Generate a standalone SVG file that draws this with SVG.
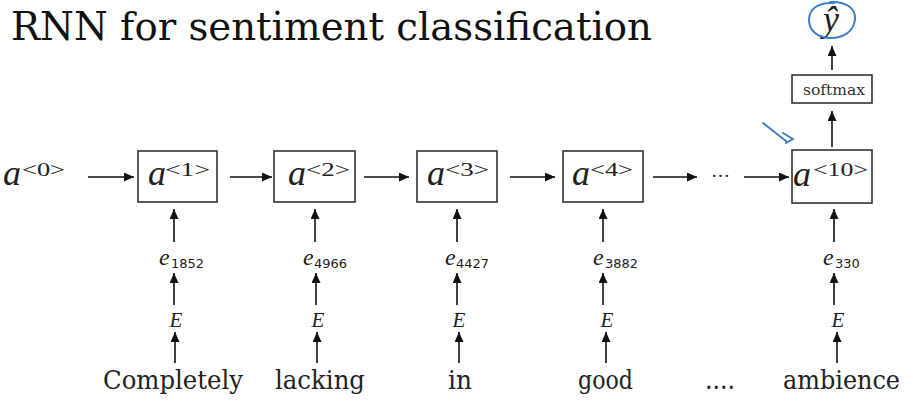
<svg xmlns="http://www.w3.org/2000/svg" width="913" height="404" viewBox="0 0 913 404">
<style>
.box{fill:#fff;stroke:#333;stroke-width:1.6}
.serif{font-family:'Liberation Serif','Times New Roman',serif}
.dserif{font-family:'DejaVu Serif',serif}
.a{font-style:italic;font-size:36px;fill:#222}
.sup{font-size:19px;fill:#222}
.e{font-style:italic;font-size:24px;fill:#222}
.sub{font-family:'DejaVu Sans',sans-serif;font-size:13px;fill:#222}
.E{font-style:italic;font-size:21px;fill:#222}
.word{font-size:26px;fill:#222}
.title{font-size:40px;fill:#111}
.sm{font-size:14px;fill:#333}
.arr{stroke:#111;stroke-width:1.6;fill:none;marker-end:url(#ah)}
.blue{stroke:#3d7fc6;stroke-width:2;fill:none;stroke-linecap:round;stroke-linejoin:round}
</style>
<defs>
<marker id="ah" markerUnits="userSpaceOnUse" markerWidth="10" markerHeight="9" refX="10" refY="4.5" orient="auto">
<path d="M0,0 L10,4.5 L0,9 z" fill="#111"/>
</marker>
</defs>
<rect width="913" height="404" fill="#fff"/>
<text class="dserif title" x="11" y="40" textLength="641" lengthAdjust="spacingAndGlyphs">RNN for sentiment classification</text>

<g id="a0" class="serif"><text class="a" x="3" y="185">a</text><text class="sup" x="22" y="176" textLength="43" lengthAdjust="spacingAndGlyphs">&lt;0&gt;</text></g>

<g id="rnn1" class="serif"><rect class="box" x="138" y="151" width="79" height="51"/><text class="a" x="148" y="185">a</text><text class="sup" x="165" y="176" textLength="45" lengthAdjust="spacingAndGlyphs">&lt;1&gt;</text></g>
<g id="rnn2" class="serif"><rect class="box" x="274" y="151" width="81" height="51"/><text class="a" x="288" y="185">a</text><text class="sup" x="306" y="176" textLength="44" lengthAdjust="spacingAndGlyphs">&lt;2&gt;</text></g>
<g id="rnn3" class="serif"><rect class="box" x="417" y="151" width="80" height="51"/><text class="a" x="427" y="185">a</text><text class="sup" x="445" y="176" textLength="44" lengthAdjust="spacingAndGlyphs">&lt;3&gt;</text></g>
<g id="rnn4" class="serif"><rect class="box" x="563" y="151" width="80" height="51"/><text class="a" x="572" y="185">a</text><text class="sup" x="590" y="176" textLength="43" lengthAdjust="spacingAndGlyphs">&lt;4&gt;</text></g>
<g id="dots" class="serif"><text class="sup" x="711" y="182" font-size="22">···</text></g>
<g id="rnn10" class="serif"><rect class="box" x="792" y="150" width="80" height="53"/><text class="a" x="793" y="186">a</text><text class="sup" x="813" y="176" textLength="55" lengthAdjust="spacingAndGlyphs">&lt;10&gt;</text></g>

<g id="softmax" class="dserif"><rect class="box" x="792" y="75" width="80" height="28"/><text class="sm" x="803" y="95" textLength="62" lengthAdjust="spacingAndGlyphs">softmax</text></g>
<g id="yhat" class="serif"><text class="a" x="831" y="31" text-anchor="middle" font-size="26">ŷ</text>
<path class="blue" d="M830,2 C845,1 856,8 855,19 C854,31 844,38 831,38 C817,38 809,30 809,20 C809,9 818,2 834,3"/></g>
<g id="annotation"><path class="blue" d="M763,123 L786,141 M783,133 L793,139 L786,143"/></g>

<g id="e1" class="serif"><text class="e" x="159" y="265">e</text><text class="sub" x="171" y="268">1852</text></g>
<g id="e2" class="serif"><text class="e" x="303" y="265">e</text><text class="sub" x="314" y="268">4966</text></g>
<g id="e3" class="serif"><text class="e" x="445" y="265">e</text><text class="sub" x="456" y="268">4427</text></g>
<g id="e4" class="serif"><text class="e" x="593" y="265">e</text><text class="sub" x="605" y="268">3882</text></g>
<g id="e10" class="serif"><text class="e" x="823" y="265">e</text><text class="sub" x="835" y="268">330</text></g>

<g id="E1" class="serif"><text class="E" x="176" y="327" text-anchor="middle">E</text></g>
<g id="E2" class="serif"><text class="E" x="318" y="327" text-anchor="middle">E</text></g>
<g id="E3" class="serif"><text class="E" x="459" y="327" text-anchor="middle">E</text></g>
<g id="E4" class="serif"><text class="E" x="607" y="327" text-anchor="middle">E</text></g>
<g id="E10" class="serif"><text class="E" x="838" y="327" text-anchor="middle">E</text></g>

<g id="w1" class="dserif"><text class="word" x="103" y="389" textLength="140" lengthAdjust="spacingAndGlyphs">Completely</text></g>
<g id="w2" class="dserif"><text class="word" x="275" y="389" textLength="90" lengthAdjust="spacingAndGlyphs">lacking</text></g>
<g id="w3" class="dserif"><text class="word" x="448" y="389" textLength="24" lengthAdjust="spacingAndGlyphs">in</text></g>
<g id="w4" class="dserif"><text class="word" x="578" y="389" textLength="55" lengthAdjust="spacingAndGlyphs">good</text></g>
<g id="w5" class="dserif"><text class="word" x="705" y="389" textLength="30" lengthAdjust="spacingAndGlyphs">....</text></g>
<g id="w10" class="dserif"><text class="word" x="783" y="389" textLength="117" lengthAdjust="spacingAndGlyphs">ambience</text></g>

<g id="connectors">
<line class="arr" x1="88" y1="177" x2="134" y2="177"/>
<line class="arr" x1="230" y1="177" x2="272" y2="177"/>
<line class="arr" x1="364" y1="177" x2="409" y2="177"/>
<line class="arr" x1="510" y1="177" x2="555" y2="177"/>
<line class="arr" x1="653" y1="177" x2="697" y2="177"/>
<line class="arr" x1="744" y1="177" x2="789" y2="177"/>
<line class="arr" x1="832" y1="147" x2="832" y2="111"/>
<line class="arr" x1="832" y1="70" x2="832" y2="46"/>

<line class="arr" x1="174" y1="242" x2="174" y2="209"/>
<line class="arr" x1="174" y1="305" x2="174" y2="273"/>
<line class="arr" x1="175" y1="363" x2="175" y2="332"/>
<line class="arr" x1="315" y1="242" x2="315" y2="209"/>
<line class="arr" x1="316" y1="305" x2="316" y2="273"/>
<line class="arr" x1="317" y1="363" x2="317" y2="332"/>
<line class="arr" x1="457" y1="242" x2="457" y2="209"/>
<line class="arr" x1="457" y1="305" x2="457" y2="273"/>
<line class="arr" x1="459" y1="363" x2="459" y2="332"/>
<line class="arr" x1="603" y1="242" x2="603" y2="209"/>
<line class="arr" x1="603" y1="305" x2="603" y2="273"/>
<line class="arr" x1="606" y1="363" x2="606" y2="332"/>
<line class="arr" x1="834" y1="242" x2="834" y2="209"/>
<line class="arr" x1="834" y1="305" x2="834" y2="273"/>
<line class="arr" x1="837" y1="363" x2="837" y2="332"/>
</g>
</svg>
